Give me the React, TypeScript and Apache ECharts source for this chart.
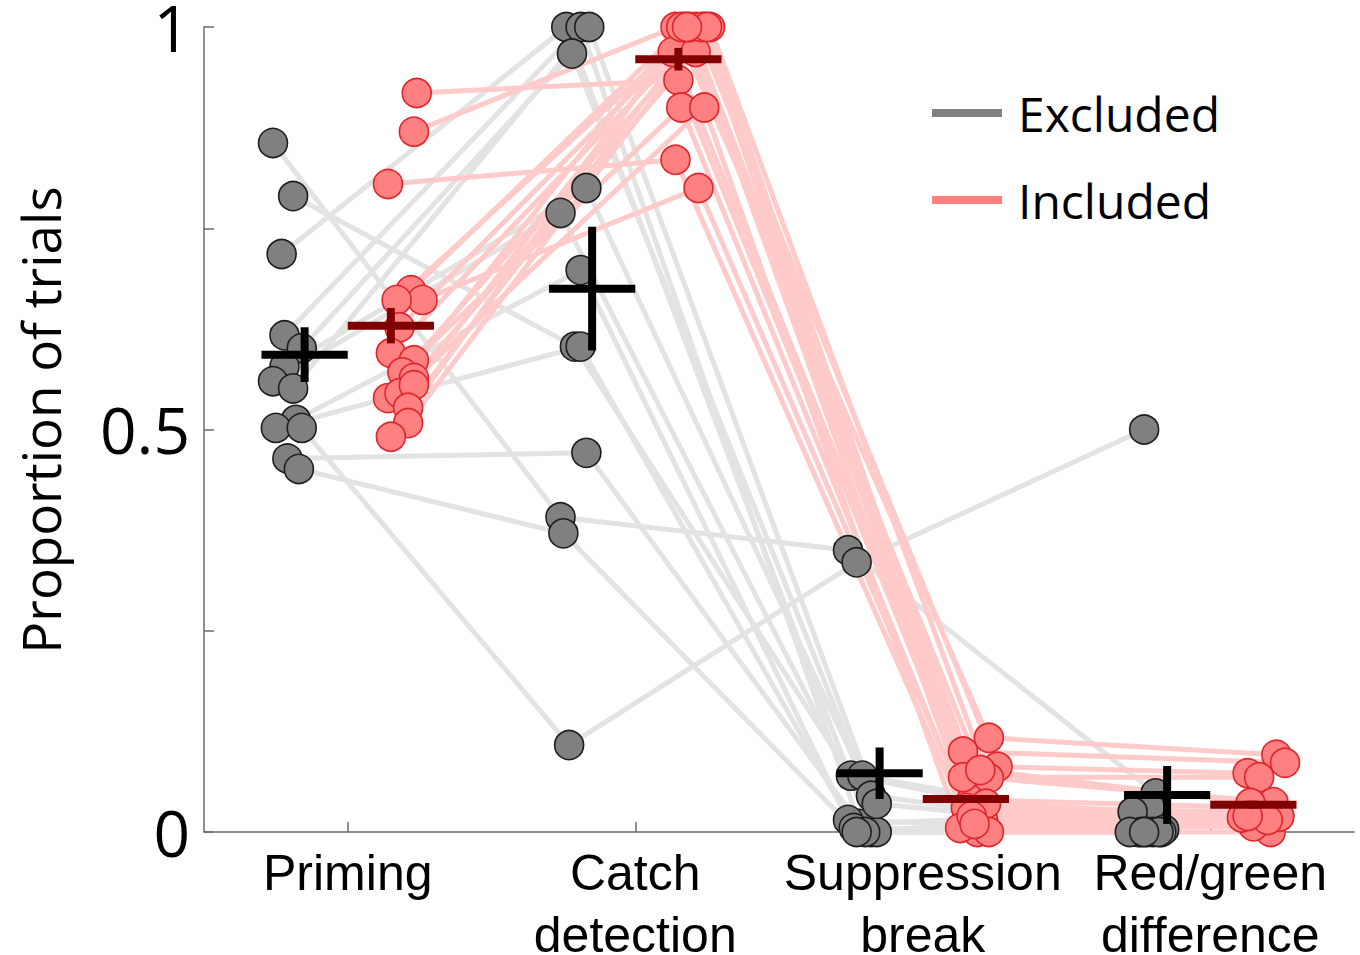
import React, { useEffect, useRef } from 'react';
import * as echarts from 'echarts';

// ---------- data ----------
const categories = ['Priming', 'Catch\ndetection', 'Suppression\nbreak', 'Red/green\ndifference'];
const yTickValues = [0, 0.25, 0.5, 0.75, 1];
const yTickLabels = ['0', '', '0.5', '', '1'];
const legendLabels = ['Excluded', 'Included'];

// Excluded participants (13), one entry per participant
const excludedPriming = [0.856, 0.79, 0.718, 0.617, 0.601, 0.578, 0.56, 0.551, 0.512, 0.502, 0.502, 0.464, 0.451];
const excludedCatch = [0.391, 0.603, 1.0, 1.0, 0.967, 0.8, 0.769, 1.0, 0.698, 0.603, 0.108, 0.471, 0.371];
const excludedSuppression = [0.35, 0.07, 0.0, 0.01, 0.07, 0.045, 0.0, 0.035, 0.015, 0.005, 0.335, 0.0, 0.0];
const excludedRedGreen = [0.048, 0.0, 0.031, 0.025, 0.003, 0.0, 0.0, 0.0, 0.0, 0.0, 0.5, 0.0, 0.0];
// horizontal jitter (category units)
const excludedPrimingJitter = [-0.26, -0.19, -0.23, -0.22, -0.16, -0.22, -0.26, -0.19, -0.18, -0.25, -0.16, -0.21, -0.17];
const excludedCatchJitter = [-0.26, -0.21, -0.24, -0.19, -0.22, -0.17, -0.26, -0.16, -0.19, -0.19, -0.23, -0.17, -0.25];
const excludedSuppressionJitter = [-0.26, -0.25, -0.18, -0.22, -0.21, -0.18, -0.16, -0.16, -0.26, -0.24, -0.23, -0.2, -0.23];
const excludedRedGreenJitter = [-0.19, -0.25, -0.21, -0.27, -0.16, -0.2, -0.24, -0.17, -0.22, -0.28, -0.23, -0.18, -0.23];

// Included participants (17)
const includedPriming = [0.918, 0.87, 0.805, 0.673, 0.661, 0.661, 0.627, 0.595, 0.586, 0.571, 0.564, 0.539, 0.545, 0.555, 0.527, 0.508, 0.491];
const includedCatch = [0.934, 1.0, 0.835, 1.0, 0.8, 1.0, 0.969, 1.0, 0.9, 1.0, 0.969, 1.0, 0.9, 1.0, 1.0, 1.0, 1.0];
const includedSuppression = [0.04, 0.117, 0.01, 0.1, 0.0, 0.081, 0.025, 0.068, 0.03, 0.067, 0.015, 0.077, 0.005, 0.035, 0.02, 0.0, 0.01];
const includedRedGreen = [0.03, 0.096, 0.01, 0.086, 0.0, 0.073, 0.02, 0.068, 0.025, 0.037, 0.018, 0.036, 0.007, 0.019, 0.015, 0.018, 0.02];
const includedPrimingJitter = [0.24, 0.23, 0.14, 0.22, 0.26, 0.17, 0.18, 0.15, 0.23, 0.19, 0.23, 0.14, 0.18, 0.23, 0.21, 0.21, 0.15];
const includedCatchJitter = [0.15, 0.14, 0.14, 0.17, 0.22, 0.21, 0.13, 0.24, 0.16, 0.26, 0.21, 0.16, 0.24, 0.19, 0.23, 0.25, 0.18];
const includedSuppressionJitter = [0.17, 0.23, 0.16, 0.14, 0.19, 0.26, 0.2, 0.14, 0.15, 0.23, 0.21, 0.2, 0.13, 0.22, 0.17, 0.23, 0.18];
const includedRedGreenJitter = [0.19, 0.23, 0.16, 0.26, 0.21, 0.13, 0.24, 0.17, 0.18, 0.22, 0.16, 0.14, 0.15, 0.24, 0.2, 0.11, 0.13];

// group means and error bars
const excludedMean = [0.593, 0.675, 0.073, 0.046];
const excludedError = [0.034, 0.077, 0.032, 0.036];
const includedMean = [0.629, 0.96, 0.041, 0.034];
const includedError = [0.022, 0.014, 0.005, 0.005];

// ---------- helpers ----------
const GRAY_LINE = '#e3e3e3';
const PINK_LINE = '#ffcaca';
const GRAY_FILL = '#808080';
const RED_FILL = '#ff8080';
const RED_EDGE = '#e0262b';
const DARK_RED = '#800000';

function participants(vals: number[][], jit: number[][]) {
  const n = vals[0].length;
  const out: number[][][] = [];
  for (let i = 0; i < n; i++) {
    out.push(vals.map((arr, c) => [c + 1 + jit[c][i], arr[i]]));
  }
  return out;
}

export default function App() {
  const ref = useRef<HTMLDivElement>(null);

  useEffect(() => {
    if (!ref.current) return;
    const chart = echarts.init(ref.current, undefined, { renderer: 'svg' });

    const exc = participants(
      [excludedPriming, excludedCatch, excludedSuppression, excludedRedGreen],
      [excludedPrimingJitter, excludedCatchJitter, excludedSuppressionJitter, excludedRedGreenJitter]
    );
    const inc = participants(
      [includedPriming, includedCatch, includedSuppression, includedRedGreen],
      [includedPrimingJitter, includedCatchJitter, includedSuppressionJitter, includedRedGreenJitter]
    );

    const lineSeries = (pts: number[][], color: string, z: number) => ({
      type: 'line',
      xAxisIndex: 1,
      data: pts,
      symbol: 'none',
      silent: true,
      z,
      lineStyle: { color, width: 5 },
      clip: false,
    });

    const scatter = (groups: number[][][], fill: string, edge: string, z: number) => ({
      type: 'scatter',
      xAxisIndex: 1,
      data: groups.flat(),
      symbolSize: 29,
      silent: true,
      clip: false,
      z,
      itemStyle: { color: fill, borderColor: edge, borderWidth: 1.6, opacity: 1 },
    });

    const meanSeries = (means: number[], errs: number[], side: number, color: string) => ({
      type: 'custom',
      xAxisIndex: 1,
      silent: true,
      clip: false,
      z: 10,
      data: means.map((m, i) => [i + 1, m, errs[i]]),
      renderItem: (_p: any, api: any) => {
        const c = api.value(0);
        const m = api.value(1);
        const s = api.value(2);
        const a = api.coord([side < 0 ? c - 0.3 : c, m]);
        const b = api.coord([side < 0 ? c : c + 0.3, m]);
        const t = api.coord([c + side * 0.15, m + s]);
        const u = api.coord([c + side * 0.15, m - s]);
        return {
          type: 'group',
          children: [
            { type: 'line', shape: { x1: a[0], y1: a[1], x2: b[0], y2: b[1] }, style: { stroke: color, lineWidth: 8 } },
            { type: 'line', shape: { x1: t[0], y1: t[1], x2: u[0], y2: u[1] }, style: { stroke: color, lineWidth: 8 } },
          ],
        };
      },
    });

    const option: any = {
      animation: false,
      backgroundColor: '#ffffff',
      grid: { left: 204, top: 27, width: 1150, height: 805, containLabel: false, outerBoundsMode: 'none' },
      xAxis: [
        {
          type: 'category',
          data: categories,
          boundaryGap: true,
          axisLine: { show: true, lineStyle: { color: '#6a6a6a', width: 1.5 } },
          axisTick: { show: true, inside: true, alignWithLabel: true, length: 10, lineStyle: { color: '#6a6a6a', width: 1.5 } },
          axisLabel: {
            interval: 0,
            margin: 10,
            color: '#000',
            fontFamily: 'Liberation Sans',
            fontSize: 50,
            lineHeight: 62,
          },
          splitLine: { show: false },
        },
        { type: 'value', min: 0.5, max: 4.5, show: false },
      ],
      yAxis: {
        type: 'value',
        min: 0,
        max: 1,
        interval: 0.25,
        axisLine: { show: true, lineStyle: { color: '#6a6a6a', width: 1.5 } },
        axisTick: { show: true, inside: true, length: 10, lineStyle: { color: '#6a6a6a', width: 1.5 } },
        splitLine: { show: false },
        axisLabel: {
          margin: 14,
          color: '#000',
          fontFamily: 'Open Sans',
          fontSize: 64,
          formatter: (v: number) => {
            const idx = yTickValues.findIndex((t) => Math.abs(t - v) < 1e-9);
            return idx >= 0 ? yTickLabels[idx] : '';
          },
        },
      },
      graphic: [
        {
          type: 'text',
          x: 40,
          y: 420,
          rotation: Math.PI / 2,
          style: {
            text: 'Proportion of trials',
            fontFamily: 'Open Sans',
            fontSize: 53,
            fill: '#000',
            textAlign: 'center',
            textVerticalAlign: 'middle',
          },
        },
        { type: 'line', shape: { x1: 932, y1: 113, x2: 1002, y2: 113 }, style: { stroke: GRAY_FILL, lineWidth: 8 } },
        {
          type: 'text',
          x: 1018,
          y: 113,
          style: { text: legendLabels[0], fontFamily: 'Open Sans', fontSize: 48, fill: '#000', textVerticalAlign: 'middle' },
        },
        { type: 'line', shape: { x1: 932, y1: 200, x2: 1002, y2: 200 }, style: { stroke: RED_FILL, lineWidth: 8 } },
        {
          type: 'text',
          x: 1018,
          y: 200,
          style: { text: legendLabels[1], fontFamily: 'Open Sans', fontSize: 48, fill: '#000', textVerticalAlign: 'middle' },
        },
      ],
      series: [
        ...exc.map((p) => lineSeries(p, GRAY_LINE, 1)),
        ...inc.map((p) => lineSeries(p, PINK_LINE, 2)),
        scatter(exc, GRAY_FILL, '#1e1e1e', 3),
        scatter(inc, RED_FILL, RED_EDGE, 4),
        meanSeries(excludedMean, excludedError, -1, '#000000'),
        meanSeries(includedMean, includedError, 1, DARK_RED),
      ],
    };

    chart.setOption(option);
    return () => chart.dispose();
  }, []);

  return <div ref={ref} style={{ position: 'absolute', left: 0, top: 0, width: 1360, height: 955, background: '#fff' }} />;
}
